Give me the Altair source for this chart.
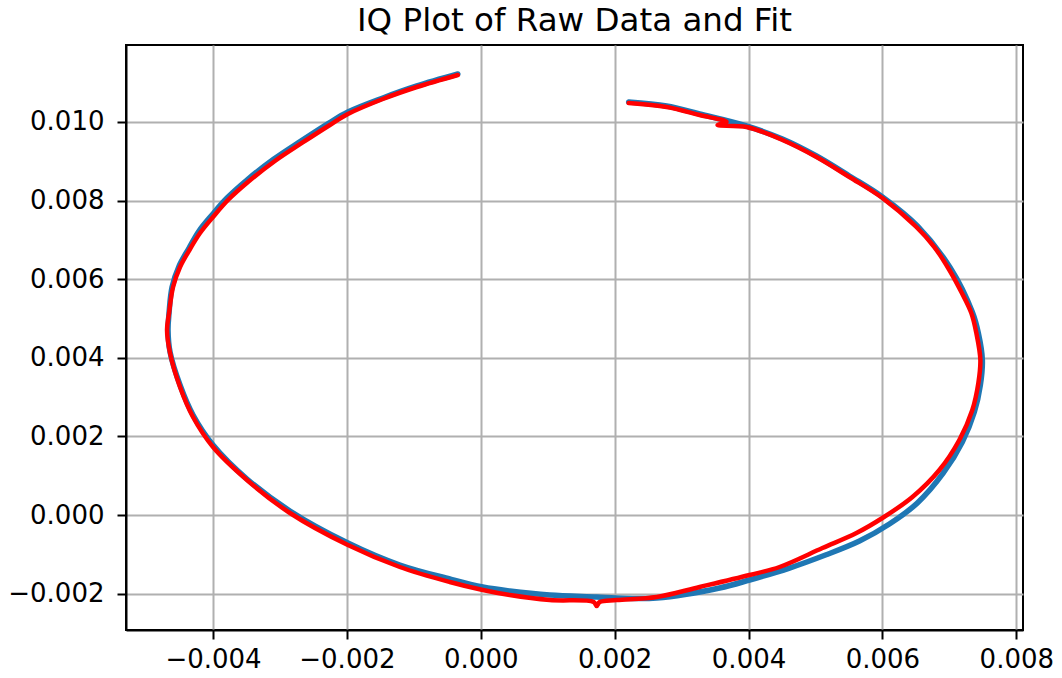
import altair as alt
import pandas as pd

# Fitted resonance circle (I, Q), traced from the top-right end clockwise
fit_i = [0.002209, 0.002776, 0.003269, 0.003672, 0.003537, 0.003970, 0.004507,
         0.005015, 0.005507, 0.006000, 0.006507, 0.006776, 0.007000, 0.007179,
         0.007328, 0.007403, 0.007463, 0.007433, 0.007343, 0.007149, 0.006851,
         0.006448, 0.006000, 0.005612, 0.005104, 0.004463, 0.004015, 0.003269,
         0.002627, 0.002030, 0.001776, 0.001731, 0.001687, 0.001030, 0.000433,
         0.000030, -0.000463, -0.001209, -0.001985, -0.002851, -0.003493,
         -0.004000, -0.004299, -0.004493, -0.004642, -0.004687, -0.004657,
         -0.004597, -0.004493, -0.004343, -0.004194, -0.004000, -0.003776,
         -0.003478, -0.003075, -0.002672, -0.002254, -0.001985, -0.001463,
         -0.000955, -0.000343]
fit_q = [0.010483, 0.010382, 0.010178, 0.010000, 0.009924, 0.009873, 0.009542,
         0.009109, 0.008600, 0.008066, 0.007328, 0.006819, 0.006234, 0.005674,
         0.005140, 0.004631, 0.003944, 0.003359, 0.002672, 0.001908, 0.001145,
         0.000458, -0.000076, -0.000458, -0.000840, -0.001323, -0.001527,
         -0.001832, -0.002086, -0.002163, -0.002214, -0.002316, -0.002214,
         -0.002163, -0.002036, -0.001908, -0.001705, -0.001323, -0.000763,
         0.000051, 0.000891, 0.001730, 0.002494, 0.003257, 0.004122, 0.004707,
         0.005140, 0.005801, 0.006310, 0.006768, 0.007175, 0.007583, 0.008015,
         0.008473, 0.009008, 0.009466, 0.009924, 0.010203, 0.010585, 0.010890,
         0.011196]

# Raw IQ samples along the same sweep
raw_i = [0.002209, 0.002776, 0.003269, 0.003970, 0.004507, 0.005015, 0.005507,
         0.006000, 0.006522, 0.007015, 0.007343, 0.007433, 0.007493, 0.007463,
         0.007373, 0.007194, 0.006910, 0.006522, 0.006104, 0.005657, 0.005149,
         0.004612, 0.004015, 0.003567, 0.002627, 0.002030, 0.001731, 0.001030,
         0.000433, 0.000030, -0.000463, -0.001209, -0.001985, -0.002851,
         -0.003493, -0.004000, -0.004299, -0.004493, -0.004642, -0.004672,
         -0.004657, -0.004612, -0.004507, -0.004358, -0.004209, -0.004015,
         -0.003791, -0.003493, -0.003090, -0.002687, -0.002269, -0.001985,
         -0.001463, -0.000955, -0.000343]
raw_q = [0.010509, 0.010407, 0.010203, 0.009898, 0.009567, 0.009135, 0.008626,
         0.008092, 0.007354, 0.006285, 0.005165, 0.004631, 0.003944, 0.003308,
         0.002621, 0.001857, 0.001069, 0.000305, -0.000229, -0.000662, -0.001018,
         -0.001349, -0.001654, -0.001857, -0.002112, -0.002112, -0.002086,
         -0.002036, -0.001934, -0.001832, -0.001628, -0.001272, -0.000712,
         0.000102, 0.000916, 0.001781, 0.002545, 0.003308, 0.004148, 0.004707,
         0.005140, 0.005801, 0.006336, 0.006794, 0.007226, 0.007634, 0.008066,
         0.008524, 0.009058, 0.009516, 0.009974, 0.010254, 0.010611, 0.010916,
         0.011221]

x_ticks = [-0.004, -0.002, 0.0, 0.002, 0.004, 0.006, 0.008]
y_ticks = [-0.002, 0.0, 0.002, 0.004, 0.006, 0.008, 0.010]

raw = pd.DataFrame({"I": raw_i, "Q": raw_q, "n": list(range(len(raw_i)))})
fit = pd.DataFrame({"I": fit_i, "Q": fit_q, "n": list(range(len(fit_i)))})

x_scale = alt.Scale(domain=[-0.0053, 0.0081], nice=False, zero=False)
y_scale = alt.Scale(domain=[-0.002926, 0.011959], nice=False, zero=False)

x_enc = alt.X("I:Q", scale=x_scale,
              axis=alt.Axis(values=x_ticks, format=".3f", title=None,
                            labelPadding=7))
y_enc = alt.Y("Q:Q", scale=y_scale,
              axis=alt.Axis(values=y_ticks, format=".3f", title=None,
                            labelPadding=13))

raw_line = alt.Chart(raw).mark_line(
    color="#1f77b4", strokeWidth=5.5, strokeCap="round", strokeJoin="round",
    interpolate="catmull-rom"
).encode(x=x_enc, y=y_enc, order="n:Q")

fit_line = alt.Chart(fit).mark_line(
    color="#ff0000", strokeWidth=4.5, strokeCap="round", strokeJoin="round",
    interpolate="catmull-rom"
).encode(x=x_enc, y=y_enc, order="n:Q")

chart = alt.layer(raw_line, fit_line).properties(
    width=897,
    height=585,
    autosize=alt.AutoSizeParams(type="none"),
    padding={"left": 126, "top": 45, "right": 39, "bottom": 48},
    title=alt.TitleParams(
        "IQ Plot of Raw Data and Fit", fontSize=32.5, font="DejaVu Sans",
        fontWeight="normal", color="black", anchor="middle", offset=8),
).configure_view(
    stroke="black", strokeWidth=2
).configure_axis(
    domainColor="black", domainWidth=2,
    tickColor="black", tickWidth=2, tickSize=9,
    gridColor="#b0b0b0", gridWidth=2,
    labelFont="DejaVu Sans", labelFontSize=26, labelColor="black",
)

chart.save("out.html", embed_options={"renderer": "svg", "actions": False})
